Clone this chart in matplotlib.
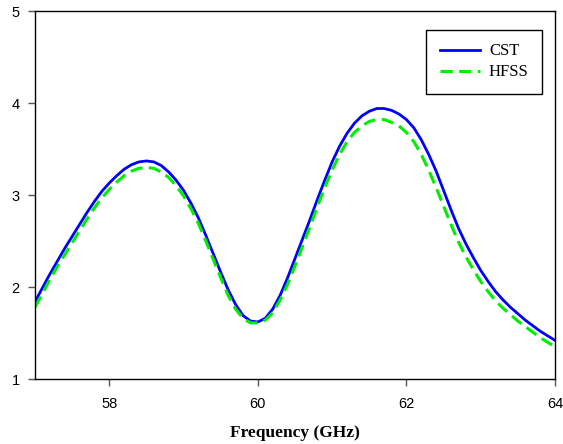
import matplotlib.pyplot as plt

# frequency grid (GHz) and curves
freq = [57.0, 57.1, 57.2, 57.3, 57.4, 57.5, 57.6, 57.7, 57.8, 57.9,
        58.0, 58.1, 58.2, 58.3, 58.4, 58.5, 58.6, 58.7, 58.8, 58.9,
        59.0, 59.1, 59.2, 59.3, 59.4, 59.5, 59.6, 59.7, 59.8, 59.9,
        60.0, 60.1, 60.2, 60.3, 60.4, 60.5, 60.6, 60.7, 60.8, 60.9,
        61.0, 61.1, 61.2, 61.3, 61.4, 61.5, 61.6, 61.7, 61.8, 61.9,
        62.0, 62.1, 62.2, 62.3, 62.4, 62.5, 62.6, 62.7, 62.8, 62.9,
        63.0, 63.1, 63.2, 63.3, 63.4, 63.5, 63.6, 63.7, 63.8, 63.9,
        64.0]
cst = [1.84, 1.99, 2.14, 2.28, 2.42, 2.55, 2.68, 2.81, 2.93, 3.04,
       3.13, 3.21, 3.28, 3.33, 3.36, 3.37, 3.36, 3.32, 3.25, 3.16,
       3.05, 2.91, 2.75, 2.56, 2.36, 2.16, 1.97, 1.81, 1.69, 1.63,
       1.62, 1.66, 1.76, 1.91, 2.10, 2.31, 2.52, 2.73, 2.95, 3.16,
       3.36, 3.53, 3.67, 3.78, 3.86, 3.91, 3.94, 3.94, 3.92, 3.88,
       3.82, 3.73, 3.60, 3.44, 3.26, 3.05, 2.84, 2.64, 2.47, 2.32,
       2.18, 2.06, 1.95, 1.86, 1.78, 1.71, 1.64, 1.58, 1.52, 1.47,
       1.42]
hfss = [1.78, 1.93, 2.08, 2.22, 2.35, 2.48, 2.61, 2.74, 2.86, 2.97,
        3.06, 3.14, 3.21, 3.26, 3.29, 3.30, 3.29, 3.25, 3.19, 3.10,
        2.99, 2.85, 2.69, 2.50, 2.30, 2.10, 1.91, 1.76, 1.66, 1.61,
        1.61, 1.64, 1.72, 1.86, 2.03, 2.23, 2.44, 2.65, 2.87, 3.08,
        3.27, 3.44, 3.58, 3.68, 3.75, 3.80, 3.82, 3.82, 3.79, 3.75,
        3.68, 3.58, 3.44, 3.27, 3.08, 2.88, 2.68, 2.49, 2.33, 2.19,
        2.06, 1.95, 1.85, 1.77, 1.70, 1.63, 1.57, 1.51, 1.45, 1.40,
        1.35]

xticks = [58, 60, 62, 64]
yticks = [1, 2, 3, 4, 5]

fig = plt.figure(figsize=(5.63, 4.44), dpi=100)
ax = fig.add_axes([35/563, 65/444, 520/563, 368/444])

ax.plot(freq, cst, color='#0000ff', lw=2.0, label='CST')
ax.plot(freq, hfss, color='#00ee00', lw=2.2, dashes=(4.0, 2.1), label='HFSS')

ax.set_xlim(57, 64)
ax.set_ylim(1, 5)
ax.set_xticks(xticks)
ax.set_yticks(yticks)
ax.tick_params(direction='out', length=5, width=1, color='#555555',
               labelsize=10.5, top=False, right=False)
ax.tick_params(axis='x', pad=8)
ax.tick_params(axis='y', pad=6)
for lab in ax.get_xticklabels() + ax.get_yticklabels():
    lab.set_fontfamily('Liberation Sans')
for sp in ax.spines.values():
    sp.set_linewidth(1)
    sp.set_color('black')

ax.set_xlabel('Frequency (GHz)', fontfamily='Liberation Serif',
              fontweight='bold', fontsize=12.5, labelpad=10)

leg = ax.legend(loc='upper right', bbox_to_anchor=(1 - 13/520, 1 - 19/368),
                borderaxespad=0,
                prop={'family': 'Liberation Serif', 'size': 12},
                fancybox=False, edgecolor='black', framealpha=1,
                handlelength=2.4, handletextpad=0.55, borderpad=0.8,
                labelspacing=0.3)
leg.get_frame().set_linewidth(1)

fig.savefig('out.png', dpi=100)
